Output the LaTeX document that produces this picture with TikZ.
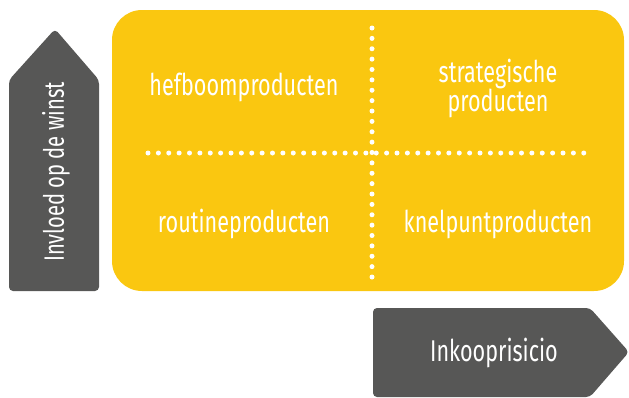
\documentclass[tikz,border=0pt]{standalone}
\usepackage{fontspec}
\setmainfont[FakeStretch=0.72]{Fira Sans}
\definecolor{ylw}{HTML}{FAC710}
\definecolor{gry}{HTML}{575756}
\begin{document}
\begin{tikzpicture}[x=1pt,y=-1pt,
  lbl/.style={text=white,font=\fontsize{30}{29}\selectfont,align=center,inner sep=0pt},
  dotline/.style={draw=white,line width=5pt,line cap=round,dash pattern=on 0pt off 10.375pt}]
\useasboundingbox (0,0) rectangle (629,397);
% yellow field
\fill[ylw,rounded corners=30pt] (112,10) rectangle (624,291);
% dotted cross
\coordinate (vt) at (372,28);
\coordinate (vb) at (372,277);
\coordinate (hl) at (148,153);
\coordinate (hr) at (594,153);
\draw[dotline] (vt) -- (vb);
\draw[dotline] (hl) -- (hr);
% quadrant labels
\node[lbl] (lev) at (244,87) {hefboomproducten};
\node[lbl] (str) at (498,88) {strategische\\producten};
\node[lbl] (rou) at (244,224) {routineproducten};
\node[lbl] (kne) at (498,224) {knelpuntproducten};
% vertical arrow
\fill[gry,rounded corners=4pt] (9,291) -- (9,80) -- (55,29) -- (99,80) -- (99,291) -- cycle;
\node[lbl,font=\fontsize{28}{29}\selectfont,rotate=90] (win) at (56,172) {Invloed op de winst};
% horizontal arrow
\fill[gry,rounded corners=4pt] (373,308) -- (590,308) -- (629,352) -- (590,397) -- (373,397) -- cycle;
\node[lbl] (ink) at (494,353) {Inkooprisicio};
\end{tikzpicture}
\end{document}
